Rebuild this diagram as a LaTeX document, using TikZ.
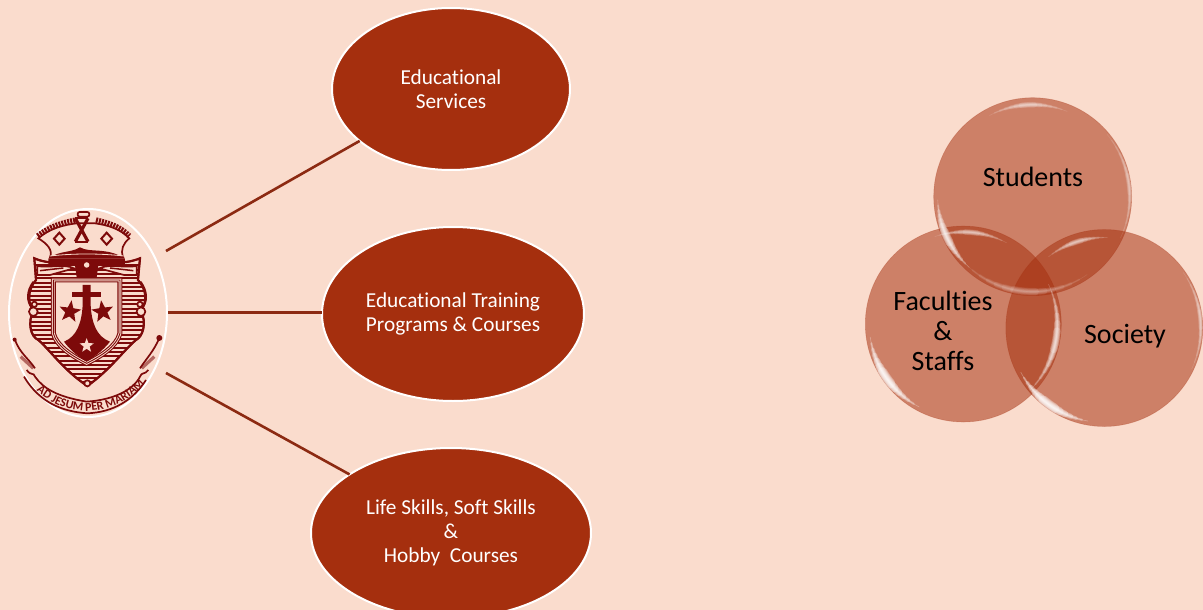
\documentclass[tikz,border=0pt]{standalone}
\usepackage{fontspec}
\setmainfont[Ligatures=NoCommon]{Carlito}
\usetikzlibrary{shapes.geometric,calc,decorations.text}
\definecolor{bgc}{HTML}{FADCCD}
\definecolor{rust}{HTML}{A52F0E}
\definecolor{linec}{HTML}{8C2A12}
\definecolor{crestc}{HTML}{7D0A0A}
\tikzset{
  service/.style={ellipse,draw=white,line width=2pt,fill=rust,text=white,inner sep=0pt,outer sep=0pt,align=center,font=\fontsize{21.3}{24}\selectfont},
  link/.style={draw=linec,line width=2.6pt},
  bubble/.style={circle,fill=rust,fill opacity=.53,inner sep=0pt,outer sep=0pt,draw=rust,draw opacity=.25,line width=.6pt},
  bubbletext/.style={text=black,align=center,font=\fontsize{28}{30}\selectfont,inner sep=0pt},
  crestline/.style={draw=crestc,line width=1.7pt},
  creststar/.style={star,star points=5,star point ratio=2.4,inner sep=0pt,draw=none}
}
\newcommand{\shieldpath}{(160,240) -- (360,240) -- (360,400) .. controls (350,440) and (300,470) .. (260,490) .. controls (220,470) and (170,440) .. (160,400) -- cycle}
\newcommand{\bodypath}{(103,175) .. controls (150,195) and (190,185) .. (230,195) -- (290,195) .. controls (330,185) and (370,195) .. (420,175) -- (414,240) .. controls (442,270) and (442,310) .. (422,330) .. controls (442,370) and (428,410) .. (408,420) .. controls (372,450) and (330,510) .. (262,558) .. controls (190,510) and (150,450) .. (115,420) .. controls (92,410) and (82,370) .. (100,330) .. controls (82,310) and (82,270) .. (108,240) -- cycle}
% soft tapered highlight hugging the rim of a bubble:
% bubble, bubble radius, inset, start angle, end angle, opacity, largest width
\newcommand{\glossarc}[7]{%
  \begin{scope}
  \clip ($(#1)$) circle[radius=#2];
  \foreach \i in {0,...,6}{
    \pgfmathsetmacro{\aa}{#4+\i*(#5-#4)*0.07}
    \pgfmathsetmacro{\ab}{#5-\i*(#5-#4)*0.07}
    \pgfmathsetmacro{\rr}{#2-#3}
    \pgfmathsetmacro{\ww}{0.6+\i*(#7)/6}
    \draw[white,opacity=#6,line width=\ww pt,line cap=round]
      ($(#1)+(\aa:\rr)$) arc[start angle=\aa,end angle=\ab,radius=\rr];
  }
  \end{scope}}
\begin{document}
\begin{tikzpicture}[x=1pt,y=-1pt]
\useasboundingbox (0,0) rectangle (1203,610);
\fill[bgc] (0,0) rectangle (1203,610);

% crest
\node[ellipse,draw=white,line width=2pt,fill=bgc,minimum width=158pt,minimum height=208pt,inner sep=0pt,outer sep=0pt] (crest) at (88,313) {};

\begin{scope}[x=.3333pt,y=-.3333pt,yshift=-200pt]
  % body
  \path[fill=bgc,crestline] \bodypath;
  \begin{scope}
    \clip \bodypath;
    \foreach \yy in {196,209,...,560}{
      \draw[crestc,line width=2.1pt] (80,\yy) -- (440,\yy);
    }
  \end{scope}
  \path[crestline,line width=2.2pt] \bodypath;
  % scrolls
  \draw[crestline,fill=bgc] (112,198) .. controls (150,205) and (190,190) .. (222,205) -- (150,225) -- (112,225) -- cycle;
  \draw[crestline,fill=bgc] (410,198) .. controls (370,205) and (330,190) .. (298,205) -- (372,225) -- (410,225) -- cycle;
  \draw[crestc,line width=1.5pt] (120,212) -- (190,204) (400,212) -- (330,204);
  \draw[crestline] (100,245) .. controls (78,275) and (80,305) .. (95,322);
  \draw[crestline] (422,245) .. controls (444,275) and (442,305) .. (428,322);
  \draw[crestline,fill=bgc] (100,335) circle[radius=13];
  \draw[crestline,fill=bgc] (423,335) circle[radius=13];
  \draw[crestline,fill=bgc] (103,313) circle[radius=8];
  \draw[crestline,fill=bgc] (420,313) circle[radius=8];
  \draw[crestline,fill=bgc] (262,550) circle[radius=9];
  % neck
  \fill[crestc] (145,176) -- (375,176) -- (375,193) -- (295,197) -- (290,232) -- (230,232) -- (225,197) -- (145,193) -- cycle;
  \node[circle,fill=bgc,minimum size=5.5pt,inner sep=0pt] (crestdot) at (260,195) {};
  % crown
  \path[fill=bgc,crestline] (115,115) .. controls (150,85) and (190,75) .. (230,70) -- (285,70) .. controls (320,75) and (360,85) .. (388,115) .. controls (370,130) and (360,150) .. (370,172) -- (150,172) .. controls (160,150) and (140,130) .. (115,115) -- cycle;
  \draw[crestc,line width=5.4pt,dash pattern=on 2pt off 1pt] (113,108) .. controls (150,78) and (190,68) .. (228,60);
  \draw[crestc,line width=5.4pt,dash pattern=on 2pt off 1pt] (288,60) .. controls (320,68) and (360,78) .. (388,108);
  \fill[crestc] (145,176) .. controls (180,150) and (210,160) .. (240,142) .. controls (270,160) and (320,140) .. (375,176) -- cycle;
  \draw[bgc,line width=.8pt] (150,168) .. controls (220,160) and (300,160) .. (372,168);
  \draw[crestline,line width=2pt,fill=bgc] (178,98) -- (194,116) -- (178,134) -- (162,116) -- cycle;
  \draw[crestline,line width=2pt,fill=bgc] (320,98) -- (336,116) -- (320,134) -- (304,116) -- cycle;
  \draw[crestc,line width=3.2pt] (226,55) -- (264,125) (264,55) -- (226,125);
  \draw[crestline,fill=bgc,rounded corners=2pt] (233,36) rectangle (268,50);
  \draw[crestline] (226,55) -- (264,55) (226,125) -- (264,125);
  % shield
  \path[draw=crestc,fill=bgc,line width=5pt] \shieldpath;
  \path[draw=bgc,line width=2.8pt] \shieldpath;
  \path[draw=crestc,line width=.9pt] \shieldpath;
  % cross and mount
  \fill[crestc] (248,255) -- (272,255) -- (272,315) .. controls (275,370) and (290,410) .. (330,425) .. controls (310,450) and (285,470) .. (260,485) .. controls (235,470) and (210,450) .. (192,425) .. controls (230,410) and (245,370) .. (248,315) -- cycle;
  \fill[crestc] (215,275) rectangle (303,292);
  \node[creststar,fill=crestc,minimum size=23pt,rotate=-8] (starL) at (210,335) {};
  \node[creststar,fill=crestc,minimum size=23pt,rotate=8] (starR) at (308,335) {};
  \node[creststar,fill=bgc,minimum size=15pt] (starB) at (260,437) {};
  % ribbon
  \draw[crestline] (45,420) .. controls (60,460) and (85,475) .. (105,505);
  \draw[crestline] (478,415) .. controls (460,455) and (440,475) .. (420,505);
  \fill[crestc] (44,419) circle[radius=6];
  \fill[crestc] (478,414) circle[radius=9];
  \draw[crestc,opacity=.55,line width=3.2pt] (62,470) -- (100,505) (463,470) -- (425,505);
  \draw[crestline] (80,510) .. controls (95,530) and (100,515) .. (105,530) .. controls (130,565) and (170,590) .. (260,605) .. controls (340,600) and (400,570) .. (420,530) .. controls (425,515) and (435,525) .. (445,510);
  \draw[crestline] (72,530) .. controls (120,610) and (190,635) .. (262,640) .. controls (340,637) and (400,600) .. (438,540);
  \path[postaction={decorate},decoration={text along path,text align=center,text color=crestc,
     text={|\bfseries\fontsize{12}{12}\selectfont|AD JESUM PER MARIAM}}]
     (104,568) .. controls (165,625) and (230,634) .. (265,633) .. controls (330,630) and (395,600) .. (438,545);
\end{scope}

% service ellipses
\node[service,minimum width=238pt,minimum height=162pt] (e1) at (451,89) {Educational\\Services};
\node[service,minimum width=262pt,minimum height=174pt] (e2) at (453,314) {Educational Training\\Programs \& Courses};
\node[service,minimum width=280pt,minimum height=170pt] (e3) at (451,533) {Life Skills, Soft Skills\\\&\\Hobby\ \ Courses};

\coordinate (c1) at (166,251);
\coordinate (c2) at (168,312.5);
\coordinate (c3) at (166,373);
\path[link] (c1) -- (e1);
\path[link] (c2) -- (c2 -| e2.west);
\path[link] (c3) -- (e3.150);

% bubbles
\node[bubble,minimum size=198pt] (b1) at (1032.7,196.7) {};
\node[bubble,minimum size=196pt] (b2) at (963.3,324) {};
\node[bubble,minimum size=197pt] (b3) at (1104.3,328) {};

% glossy highlights
\glossarc{b1}{99}{7}{-118}{-68}{.13}{5}
\glossarc{b1}{99}{4}{132}{178}{.24}{8}
\glossarc{b1}{99}{4}{55}{135}{.09}{7}
\glossarc{b1}{99}{2}{-40}{25}{.10}{4}
\glossarc{b2}{98}{6}{-108}{-62}{.14}{5}
\glossarc{b2}{98}{4}{118}{172}{.30}{9}
\glossarc{b2}{98}{4}{-25}{45}{.20}{7}
\glossarc{b3}{98.5}{8}{-128}{-88}{.14}{5}
\glossarc{b3}{98.5}{4}{100}{152}{.30}{9}
\glossarc{b3}{98.5}{2}{-35}{25}{.12}{4}

% bubble texts
\node[bubbletext] (t1) at (1033,177) {Students};
\node[bubbletext] (t2) at (943,331) {Faculties\\\&\\Staffs};
\node[bubbletext] (t3) at (1125,336) {Society};
\end{tikzpicture}
\end{document}
